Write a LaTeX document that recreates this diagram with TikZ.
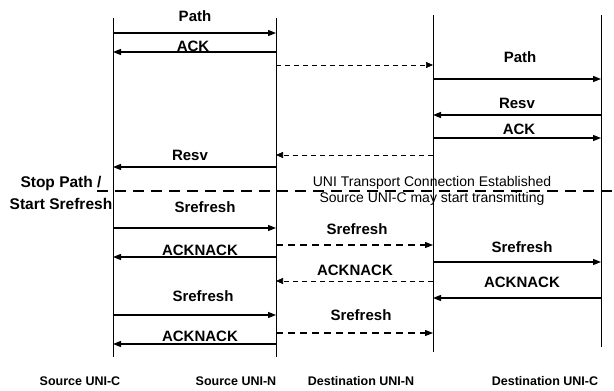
\documentclass[tikz,border=0pt]{standalone}
\usepackage{fontspec}
\setmainfont{Liberation Sans}
\usetikzlibrary{arrows.meta}
\begin{document}
\begin{tikzpicture}[x=1pt,y=-1pt,
  life/.style={line width=0.8pt},
  msg/.style={line width=1.3pt,-{Triangle[length=8pt,width=6pt]}},
  thindash/.style={line width=0.7pt,dash pattern=on 5pt off 4pt,-{Triangle[length=7pt,width=6pt]}},
  meddash/.style={line width=1.2pt,dash pattern=on 7pt off 5pt,-{Triangle[length=8pt,width=6pt]}},
  bigdash/.style={line width=2.8pt,dash pattern=on 11pt off 7pt},
  lab/.style={font=\bfseries\fontsize{15}{15}\selectfont,inner sep=0pt},
  note/.style={font=\fontsize{14}{16}\selectfont,inner sep=0pt},
  side/.style={font=\bfseries\fontsize{15.5}{22}\selectfont,inner sep=0pt,align=center},
  foot/.style={font=\bfseries\fontsize{12.5}{13}\selectfont,inner sep=0pt}]
\useasboundingbox (0,0) rectangle (614,391);
% lifelines
\coordinate (T1) at (113,18);  \coordinate (B1) at (113,357);
\coordinate (T2) at (276,18);  \coordinate (B2) at (276,357);
\coordinate (T3) at (433,15);  \coordinate (B3) at (433,352);
\coordinate (T4) at (601,15);  \coordinate (B4) at (601,347);
\draw[life] (T1) -- (B1);
\draw[life] (T2) -- (B2);
\draw[life] (T3) -- (B3);
\draw[life] (T4) -- (B4);
% messages
\draw[msg] (T1 |- 0,33) -- (T2 |- 0,33);
\node[lab] (l1) at (195,16) {Path};
\draw[msg] (T2 |- 0,52) -- (T1 |- 0,52);
\node[lab] (l2) at (193,46) {ACK};
\draw[thindash] (T2 |- 0,65) -- (T3 |- 0,65);
\draw[msg] (T3 |- 0,79) -- (T4 |- 0,79);
\node[lab] (l3) at (520,57) {Path};
\draw[msg] (T4 |- 0,115) -- (T3 |- 0,115);
\node[lab] (l4) at (517,103) {Resv};
\draw[msg] (T3 |- 0,138) -- (T4 |- 0,138);
\node[lab] (l5) at (519,129) {ACK};
\draw[thindash] (T3 |- 0,155) -- (T2 |- 0,155);
\draw[msg] (T2 |- 0,167) -- (T1 |- 0,167);
\node[lab] (l6) at (190,155) {Resv};
% establishment line
\coordinate (D1) at (97,191);
\coordinate (D2) at (612,191);
\draw[bigdash] (D1) -- (D2);
\node[side] (stop) at (61,193) {Stop Path /\\Start Srefresh};
\node[note] (est) at (432,183) {UNI Transport Connection Established};
\node[note] (may) at (432,199) {Source UNI-C may start transmitting};
% refresh phase
\draw[msg] (T1 |- 0,228) -- (T2 |- 0,228);
\node[lab] (l7) at (205,207) {Srefresh};
\draw[meddash] (T2 |- 0,245) -- (T3 |- 0,245);
\node[lab] (l8) at (357,229) {Srefresh};
\draw[msg] (T2 |- 0,257) -- (T1 |- 0,257);
\node[lab] (l9) at (200,250) {ACKNACK};
\draw[msg] (T3 |- 0,262) -- (T4 |- 0,262);
\node[lab] (l10) at (522,247) {Srefresh};
\draw[thindash] (T3 |- 0,281) -- (T2 |- 0,281);
\node[lab] (l11) at (355,270) {ACKNACK};
\draw[msg] (T4 |- 0,298) -- (T3 |- 0,298);
\node[lab] (l12) at (522,282) {ACKNACK};
\draw[msg] (T1 |- 0,315) -- (T2 |- 0,315);
\node[lab] (l13) at (203,296) {Srefresh};
\draw[meddash] (T2 |- 0,333) -- (T3 |- 0,333);
\node[lab] (l14) at (361,315) {Srefresh};
\draw[msg] (T2 |- 0,344) -- (T1 |- 0,344);
\node[lab] (l15) at (200,336) {ACKNACK};
% footer
\node[foot] (f1) at (80,381) {Source UNI-C};
\node[foot] (f2) at (236,381) {Source UNI-N};
\node[foot] (f3) at (361,381) {Destination UNI-N};
\node[foot] (f4) at (545,381) {Destination UNI-C};
\end{tikzpicture}
\end{document}
